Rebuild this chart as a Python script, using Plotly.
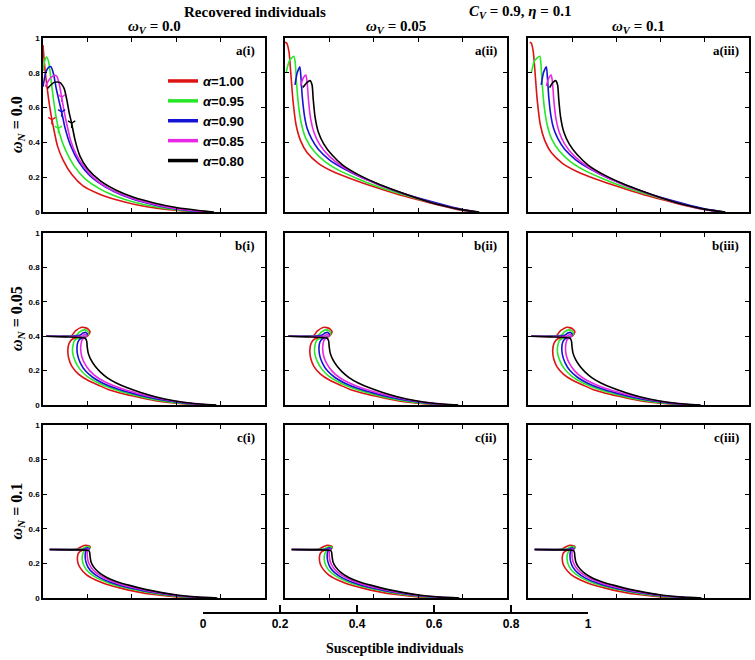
import plotly.graph_objects as go

W, H = 755, 660

alphas = ["1.00", "0.95", "0.90", "0.85", "0.80"]
colors = ["rgb(220,20,20)", "rgb(40,230,40)", "rgb(20,20,210)", "rgb(230,40,230)", "rgb(0,0,0)"]

# panel a(i): omega_V = 0.0, omega_N = 0.0
a1_x = [
    [0.0, 0.006, 0.014, 0.024, 0.036, 0.048, 0.065, 0.09, 0.13, 0.18, 0.25, 0.33, 0.42, 0.52, 0.62, 0.74],
    [0.0, 0.008, 0.016, 0.026, 0.036, 0.048, 0.06, 0.075, 0.1, 0.14, 0.19, 0.26, 0.34, 0.43, 0.53, 0.64, 0.75],
    [0.0, 0.012, 0.024, 0.036, 0.048, 0.058, 0.07, 0.084, 0.1, 0.125, 0.16, 0.21, 0.28, 0.36, 0.45, 0.55, 0.65, 0.76],
    [0.01, 0.03, 0.048, 0.062, 0.074, 0.084, 0.095, 0.108, 0.125, 0.15, 0.185, 0.23, 0.29, 0.37, 0.46, 0.56, 0.66, 0.765],
    [0.02, 0.05, 0.075, 0.095, 0.108, 0.118, 0.129, 0.145, 0.167, 0.2, 0.257, 0.33, 0.405, 0.5, 0.6, 0.7, 0.77],
]
a1_y = [
    [0.96, 0.86, 0.76, 0.66, 0.56, 0.48, 0.38, 0.30, 0.215, 0.15, 0.105, 0.07, 0.042, 0.021, 0.008, 0.0],
    [0.81, 0.87, 0.89, 0.86, 0.76, 0.64, 0.54, 0.45, 0.36, 0.265, 0.19, 0.13, 0.085, 0.05, 0.024, 0.008, 0.0],
    [0.72, 0.80, 0.83, 0.835, 0.79, 0.72, 0.65, 0.575, 0.48, 0.38, 0.29, 0.21, 0.145, 0.095, 0.057, 0.027, 0.009, 0.0],
    [0.72, 0.765, 0.785, 0.78, 0.73, 0.66, 0.58, 0.5, 0.41, 0.33, 0.26, 0.195, 0.14, 0.093, 0.057, 0.028, 0.01, 0.0],
    [0.71, 0.745, 0.745, 0.71, 0.64, 0.57, 0.51, 0.41, 0.32, 0.25, 0.18, 0.125, 0.086, 0.052, 0.026, 0.009, 0.0],
]
arrow_x = [0.04, 0.069, 0.084, 0.084, 0.129]
arrow_y = [0.53, 0.48, 0.575, 0.66, 0.51]

# panel a(ii): omega_V = 0.05, omega_N = 0.0
a2_x = [
    [0.0, 0.008, 0.018, 0.026, 0.036, 0.05, 0.07, 0.1, 0.15, 0.22, 0.3, 0.4, 0.5, 0.6, 0.7, 0.78, 0.85],
    [0.005, 0.02, 0.04, 0.046, 0.052, 0.062, 0.075, 0.095, 0.13, 0.18, 0.25, 0.33, 0.42, 0.52, 0.62, 0.72, 0.8, 0.86],
    [0.045, 0.055, 0.067, 0.072, 0.078, 0.088, 0.1, 0.12, 0.15, 0.2, 0.27, 0.35, 0.44, 0.53, 0.63, 0.73, 0.81, 0.865],
    [0.07, 0.082, 0.094, 0.1, 0.106, 0.115, 0.13, 0.155, 0.2, 0.26, 0.33, 0.41, 0.5, 0.6, 0.7, 0.8, 0.87],
    [0.08, 0.1, 0.113, 0.122, 0.127, 0.135, 0.15, 0.175, 0.21, 0.26, 0.33, 0.41, 0.5, 0.6, 0.7, 0.8, 0.875],
]
a2_y = [
    [0.975, 0.97, 0.92, 0.80, 0.64, 0.50, 0.41, 0.34, 0.28, 0.23, 0.19, 0.145, 0.105, 0.07, 0.037, 0.013, 0.0],
    [0.80, 0.87, 0.895, 0.86, 0.74, 0.60, 0.50, 0.42, 0.35, 0.29, 0.235, 0.19, 0.145, 0.105, 0.068, 0.035, 0.012, 0.0],
    [0.73, 0.80, 0.835, 0.77, 0.66, 0.55, 0.48, 0.42, 0.36, 0.30, 0.245, 0.195, 0.15, 0.108, 0.07, 0.036, 0.012, 0.0],
    [0.725, 0.77, 0.787, 0.74, 0.64, 0.54, 0.46, 0.39, 0.32, 0.26, 0.21, 0.163, 0.12, 0.077, 0.04, 0.012, 0.0],
    [0.715, 0.745, 0.755, 0.73, 0.65, 0.55, 0.46, 0.39, 0.33, 0.27, 0.215, 0.167, 0.122, 0.078, 0.04, 0.012, 0.0],
]

# panel a(iii): omega_V = 0.1, omega_N = 0.0
a3_x = [
    [0.008, 0.015, 0.024, 0.032, 0.042, 0.056, 0.076, 0.106, 0.156, 0.226, 0.306, 0.41, 0.51, 0.61, 0.71, 0.8, 0.88],
    [0.015, 0.03, 0.053, 0.058, 0.064, 0.074, 0.087, 0.107, 0.142, 0.192, 0.262, 0.342, 0.432, 0.532, 0.632, 0.732, 0.82, 0.885],
    [0.06, 0.07, 0.083, 0.088, 0.094, 0.104, 0.116, 0.136, 0.166, 0.216, 0.284, 0.362, 0.452, 0.54, 0.64, 0.74, 0.825, 0.89],
    [0.083, 0.094, 0.105, 0.111, 0.117, 0.126, 0.141, 0.166, 0.211, 0.27, 0.34, 0.42, 0.51, 0.61, 0.71, 0.81, 0.89],
    [0.098, 0.113, 0.125, 0.134, 0.139, 0.147, 0.162, 0.187, 0.222, 0.272, 0.342, 0.422, 0.512, 0.612, 0.712, 0.815, 0.893],
]
a3_y = a2_y

# rows b: omega_N = 0.05 (same in all three columns)
b_x = [
    [0.015, 0.08, 0.13, 0.145, 0.175, 0.2, 0.212, 0.2, 0.17, 0.135, 0.118, 0.112, 0.116, 0.13, 0.16, 0.2, 0.25, 0.3, 0.37, 0.45, 0.52, 0.6, 0.68, 0.77],
    [0.015, 0.1, 0.15, 0.165, 0.185, 0.2, 0.205, 0.195, 0.16, 0.142, 0.134, 0.134, 0.145, 0.165, 0.2, 0.25, 0.31, 0.38, 0.46, 0.54, 0.62, 0.7, 0.775],
    [0.015, 0.12, 0.165, 0.18, 0.193, 0.2, 0.19, 0.168, 0.157, 0.153, 0.156, 0.168, 0.19, 0.225, 0.27, 0.33, 0.4, 0.48, 0.56, 0.64, 0.71, 0.78],
    [0.015, 0.13, 0.175, 0.19, 0.197, 0.19, 0.178, 0.172, 0.17, 0.175, 0.188, 0.21, 0.245, 0.29, 0.35, 0.42, 0.5, 0.58, 0.66, 0.72, 0.78],
    [0.015, 0.1, 0.19, 0.197, 0.199, 0.204, 0.215, 0.235, 0.26, 0.29, 0.33, 0.38, 0.44, 0.51, 0.59, 0.67, 0.78],
]
b_y = [
    [0.40, 0.40, 0.405, 0.43, 0.452, 0.445, 0.425, 0.40, 0.39, 0.385, 0.36, 0.32, 0.27, 0.225, 0.18, 0.145, 0.115, 0.087, 0.062, 0.039, 0.022, 0.01, 0.003, 0.0],
    [0.40, 0.40, 0.405, 0.425, 0.437, 0.43, 0.415, 0.40, 0.39, 0.375, 0.34, 0.30, 0.255, 0.21, 0.165, 0.128, 0.096, 0.068, 0.043, 0.024, 0.011, 0.003, 0.0],
    [0.40, 0.40, 0.405, 0.418, 0.422, 0.41, 0.395, 0.385, 0.365, 0.33, 0.29, 0.245, 0.2, 0.16, 0.127, 0.096, 0.069, 0.044, 0.025, 0.011, 0.003, 0.0],
    [0.40, 0.398, 0.40, 0.41, 0.405, 0.392, 0.382, 0.36, 0.32, 0.28, 0.24, 0.2, 0.16, 0.128, 0.097, 0.07, 0.045, 0.025, 0.011, 0.003, 0.0],
    [0.40, 0.396, 0.388, 0.37, 0.34, 0.30, 0.265, 0.225, 0.19, 0.158, 0.128, 0.1, 0.073, 0.047, 0.025, 0.01, 0.0],
]

# rows c: omega_N = 0.1 (same in all three columns)
c_x = [
    [0.03, 0.1, 0.155, 0.17, 0.19, 0.21, 0.212, 0.2, 0.175, 0.16, 0.155, 0.158, 0.17, 0.195, 0.235, 0.285, 0.35, 0.42, 0.5, 0.58, 0.67, 0.77],
    [0.03, 0.12, 0.175, 0.19, 0.205, 0.212, 0.2, 0.185, 0.178, 0.177, 0.185, 0.205, 0.24, 0.29, 0.355, 0.43, 0.51, 0.59, 0.68, 0.775],
    [0.03, 0.14, 0.185, 0.2, 0.208, 0.2, 0.192, 0.19, 0.193, 0.203, 0.225, 0.26, 0.31, 0.37, 0.445, 0.52, 0.6, 0.69, 0.78],
    [0.03, 0.15, 0.195, 0.205, 0.2, 0.199, 0.2, 0.205, 0.218, 0.24, 0.275, 0.325, 0.385, 0.46, 0.535, 0.61, 0.7, 0.78],
    [0.03, 0.12, 0.205, 0.21, 0.212, 0.216, 0.228, 0.25, 0.285, 0.33, 0.39, 0.46, 0.535, 0.61, 0.7, 0.785],
]
c_y = [
    [0.28, 0.28, 0.283, 0.295, 0.305, 0.30, 0.29, 0.28, 0.275, 0.26, 0.235, 0.2, 0.17, 0.135, 0.105, 0.08, 0.057, 0.037, 0.02, 0.009, 0.002, 0.0],
    [0.28, 0.28, 0.283, 0.293, 0.297, 0.288, 0.278, 0.27, 0.25, 0.22, 0.185, 0.15, 0.118, 0.09, 0.065, 0.043, 0.025, 0.012, 0.003, 0.0],
    [0.28, 0.28, 0.282, 0.29, 0.285, 0.276, 0.265, 0.24, 0.21, 0.178, 0.145, 0.115, 0.088, 0.065, 0.044, 0.027, 0.013, 0.004, 0.0],
    [0.28, 0.279, 0.28, 0.283, 0.274, 0.26, 0.235, 0.205, 0.175, 0.145, 0.117, 0.09, 0.067, 0.045, 0.028, 0.014, 0.004, 0.0],
    [0.28, 0.278, 0.275, 0.265, 0.24, 0.21, 0.18, 0.15, 0.12, 0.096, 0.073, 0.05, 0.031, 0.016, 0.005, 0.0],
]

col_titles = ["0.0", "0.05", "0.1"]
row_titles = ["0.0", "0.05", "0.1"]
panel_tags = [["a(i)", "a(ii)", "a(iii)"], ["b(i)", "b(ii)", "b(iii)"], ["c(i)", "c(ii)", "c(iii)"]]
bottom_ticks = [0, 0.2, 0.4, 0.6, 0.8, 1]

panel_data = [
    [(a1_x, a1_y), (a2_x, a2_y), (a3_x, a3_y)],
    [(b_x, b_y), (b_x, b_y), (b_x, b_y)],
    [(c_x, c_y), (c_x, c_y), (c_x, c_y)],
]

# layout in pixels
cols_px = [(43, 265), (285, 507), (528, 749)]
rows_px = [(38, 212), (233, 405), (425, 598)]

SERIF = "Liberation Serif, Times New Roman, serif"
SANS = "Liberation Sans, Arial, sans-serif"


def fx(px):
    return px / W


def fy(py):
    return 1 - py / H


def label(text, px, py, size, family=SERIF, angle=0, xanchor="center"):
    return dict(x=fx(px), y=fy(py), xref="paper", yref="paper", showarrow=False,
                xanchor=xanchor, yanchor="middle", textangle=angle, text=text,
                font=dict(family=family, size=size, color="black", weight="bold"))


fig = go.Figure()
layout = {}
annotations = []

n = 0
for r in range(3):
    for c in range(3):
        n += 1
        xa = "xaxis" if n == 1 else f"xaxis{n}"
        ya = "yaxis" if n == 1 else f"yaxis{n}"
        xr = "x" if n == 1 else f"x{n}"
        yr = "y" if n == 1 else f"y{n}"
        xs, ys = panel_data[r][c]
        for k in range(5):
            fig.add_trace(go.Scatter(
                x=xs[k], y=ys[k], mode="lines",
                line=dict(color=colors[k], width=1.6, shape="spline", smoothing=0.6),
                xaxis=xr, yaxis=yr, showlegend=False, hoverinfo="skip"))
        if n == 1:
            for k in range(5):
                fig.add_trace(go.Scatter(
                    x=[arrow_x[k]], y=[arrow_y[k]], mode="markers",
                    marker=dict(symbol="y-down-open", size=6, color=colors[k],
                                line=dict(width=1.4, color=colors[k])),
                    xaxis=xr, yaxis=yr, showlegend=False, hoverinfo="skip"))
        x0, x1 = cols_px[c]
        y0, y1 = rows_px[r]
        axis_common = dict(showline=True, linewidth=1.5, linecolor="black", mirror="ticks",
                           ticks="inside", ticklen=4, tickwidth=1.2, tickcolor="black",
                           showgrid=False, zeroline=False, range=[0, 1], fixedrange=True,
                           automargin=False)
        layout[xa] = dict(domain=[fx(x0), fx(x1)], anchor=yr,
                          tickvals=bottom_ticks, showticklabels=False, **axis_common)
        layout[ya] = dict(domain=[fy(y1), fy(y0)], anchor=xr,
                          tickvals=[0, 0.2, 0.4, 0.6, 0.8, 1],
                          ticktext=["0", "0.2", "0.4", "0.6", "0.8", "1"],
                          showticklabels=(c == 0),
                          tickfont=dict(family=SANS, size=8, color="black", weight="bold"),
                          **axis_common)
        annotations.append(label(panel_tags[r][c], x1 - 8, y0 + 12, 13, xanchor="right"))

# legend-only traces
for k in range(5):
    fig.add_trace(go.Scatter(
        x=[None], y=[None], mode="lines", name=f"<i>α</i>=" + alphas[k],
        legendgroup=f"g{k}", line=dict(color=colors[k], width=3.5)))

# bottom axis
fig.add_trace(go.Scatter(x=[0, 1], y=[0, 0], xaxis="x10", yaxis="y10",
                         mode="lines", line=dict(width=0), showlegend=False, hoverinfo="skip"))
layout["xaxis10"] = dict(domain=[fx(203), fx(588)], anchor="y10", range=[0, 1],
                         tickvals=bottom_ticks, ticktext=["0", "0.2", "0.4", "0.6", "0.8", "1"],
                         showline=True, linewidth=2, linecolor="black",
                         ticks="inside", ticklen=7, tickwidth=2, tickcolor="black",
                         showgrid=False, zeroline=False, fixedrange=True, automargin=False,
                         tickfont=dict(family=SANS, size=12, color="black", weight="bold"))
layout["yaxis10"] = dict(domain=[fy(612), fy(605)], anchor="x10", visible=False,
                         range=[0, 1], automargin=False)
annotations.append(label("Susceptible individuals", 395, 648, 14))

# titles
annotations.append(label("Recovered individuals", 255, 12, 15))
annotations.append(label("<i>C</i><sub><i>V</i></sub> = 0.9, <i>η</i> = 0.1", 520, 12, 15))
for c in range(3):
    x0, x1 = cols_px[c]
    annotations.append(label("<i>ω</i><sub><i>V</i></sub> = " + col_titles[c],
                             (x0 + x1) / 2, 27, 15))
for r in range(3):
    y0, y1 = rows_px[r]
    annotations.append(label("<i>ω</i><sub><i>N</i></sub> = " + row_titles[r],
                             17, (y0 + y1) / 2, 16, angle=-90))

fig.update_layout(
    width=W, height=H,
    margin=dict(l=0, r=0, t=0, b=0, autoexpand=False),
    paper_bgcolor="white", plot_bgcolor="white",
    annotations=annotations,
    legend=dict(x=fx(163), y=fy(66), xanchor="left", yanchor="top",
                bgcolor="rgba(0,0,0,0)", borderwidth=0, tracegroupgap=0,
                font=dict(family=SANS, size=13, color="black", weight="bold")),
    **layout,
)

fig.write_html("out.html", config={"displayModeBar": False},
               post_script="document.body.style.margin='0';")
